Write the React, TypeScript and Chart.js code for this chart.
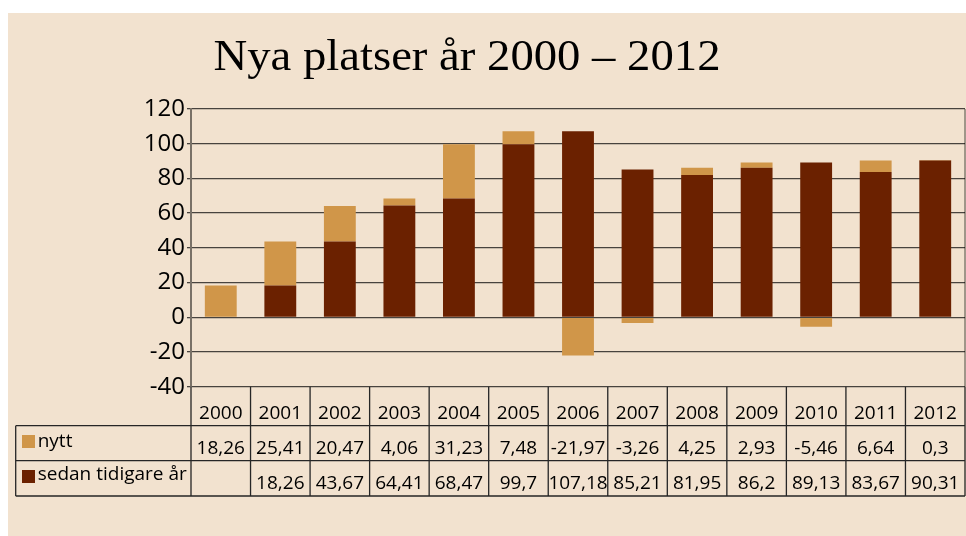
import React, { useEffect, useRef } from "react";
import { Chart, registerables } from "chart.js";

Chart.register(...registerables);

const title = "Nya platser år 2000 – 2012";
const years = ["2000", "2001", "2002", "2003", "2004", "2005", "2006", "2007", "2008", "2009", "2010", "2011", "2012"];
const nytt = [18.26, 25.41, 20.47, 4.06, 31.23, 7.48, -21.97, -3.26, 4.25, 2.93, -5.46, 6.64, 0.3];
const sedan: (number | null)[] = [null, 18.26, 43.67, 64.41, 68.47, 99.7, 107.18, 85.21, 81.95, 86.2, 89.13, 83.67, 90.31];
const seriesNames = ["nytt", "sedan tidigare år"];
const yMin = -40;
const yMax = 120;
const yStep = 20;

const BG = "#f2e2cf";
const LIGHT = "#d09649";
const DARK = "#6b2100";
const LINE = "#262626";
const FONT = "'Open Sans', 'Noto Sans', sans-serif";

const fmt = (v: number | null) => (v === null ? "" : String(v).replace(".", ","));

const tablePlugin = {
  id: "tablePlugin",
  afterDraw(chart: any) {
    const ctx = chart.ctx as CanvasRenderingContext2D;
    const ca = chart.chartArea;
    const xs = chart.scales.x;
    const n = years.length;
    const step = (ca.right - ca.left) / n;
    const cb = ca.bottom;
    const r1 = cb + 39;
    const r2 = cb + 74;
    const r3 = cb + 109.3;
    const leftX = 7.7;

    ctx.save();
    // title
    ctx.fillStyle = "#000";
    ctx.font = "45px 'Liberation Serif', 'DejaVu Serif', serif";
    ctx.textBaseline = "alphabetic";
    ctx.textAlign = "left";
    const tw = ctx.measureText(title).width;
    const targetW = 507;
    ctx.save();
    ctx.translate(459 - targetW / 2, 57);
    ctx.scale(targetW / tw, 1);
    ctx.fillText(title, 0, 0);
    ctx.restore();

    // table lines
    ctx.strokeStyle = LINE;
    ctx.lineWidth = 1.3;
    ctx.beginPath();
    for (const yy of [r1, r2, r3]) {
      ctx.moveTo(leftX, yy);
      ctx.lineTo(ca.right, yy);
    }
    ctx.moveTo(leftX, r1);
    ctx.lineTo(leftX, r3);
    for (let i = 0; i <= n; i++) {
      const x = i < n ? xs.getPixelForValue(i) - step / 2 : xs.getPixelForValue(n - 1) + step / 2;
      ctx.moveTo(x, cb);
      ctx.lineTo(x, r3);
    }
    ctx.stroke();

    // right border
    ctx.strokeStyle = "rgba(0,0,0,0.45)";
    ctx.lineWidth = 1.5;
    ctx.beginPath();
    ctx.moveTo(ca.right, ca.top);
    ctx.lineTo(ca.right, cb);
    ctx.stroke();

    // texts
    ctx.fillStyle = "#000";
    ctx.font = `19px ${FONT}`;
    ctx.textAlign = "center";
    ctx.textBaseline = "alphabetic";
    for (let i = 0; i < n; i++) {
      const x = xs.getPixelForValue(i);
      ctx.fillText(years[i], x, cb + 32.3);
      ctx.fillText(fmt(nytt[i]), x, cb + 67.3);
      ctx.fillText(fmt(sedan[i]), x, cb + 102.3);
    }
    // legend keys
    ctx.textAlign = "left";
    ctx.fillStyle = LIGHT;
    ctx.fillRect(14, cb + 48.3, 13, 13);
    ctx.fillStyle = DARK;
    ctx.fillRect(14, cb + 83.3, 13, 13);
    ctx.fillStyle = "#000";
    ctx.fillText(seriesNames[0], 29.7, cb + 60);
    ctx.fillText(seriesNames[1], 29.7, cb + 93.3);
    ctx.restore();
  },
};

export default function App() {
  const ref = useRef<HTMLCanvasElement | null>(null);
  useEffect(() => {
    if (!ref.current) return;
    const chart = new Chart(ref.current, {
      type: "bar",
      data: {
        labels: years,
        datasets: [
          {
            label: seriesNames[1],
            data: sedan,
            backgroundColor: DARK,
            borderWidth: 0,
            barPercentage: 0.535,
            categoryPercentage: 1,
          },
          {
            label: seriesNames[0],
            data: nytt,
            backgroundColor: LIGHT,
            borderWidth: 0,
            barPercentage: 0.535,
            categoryPercentage: 1,
          },
        ],
      },
      options: {
        responsive: false,
        animation: false,
        layout: { padding: { top: 96, bottom: 149.3, left: 0, right: 1 } },
        plugins: {
          legend: { display: false },
          title: { display: false },
          tooltip: { enabled: false },
        },
        scales: {
          x: {
            stacked: true,
            display: false,
          },
          y: {
            stacked: true,
            min: yMin,
            max: yMax,
            z: 1,
            afterFit: (s: any) => {
              s.width = 183;
            },
            ticks: {
              stepSize: yStep,
              color: "#000",
              padding: 2,
              font: { family: FONT, size: 24 },
            },
            grid: {
              color: "rgba(0,0,0,0.7)",
              lineWidth: 1.3,
              tickLength: 4,
            },
            border: { display: true, color: "rgba(0,0,0,0.5)", width: 2 },
          },
        },
      },
      plugins: [tablePlugin],
    });
    return () => chart.destroy();
  }, []);

  return (
    <div style={{ position: "absolute", left: 8, top: 13, width: 958, height: 523, background: BG }}>
      <canvas ref={ref} width={958} height={523} style={{ display: "block" }} />
    </div>
  );
}
